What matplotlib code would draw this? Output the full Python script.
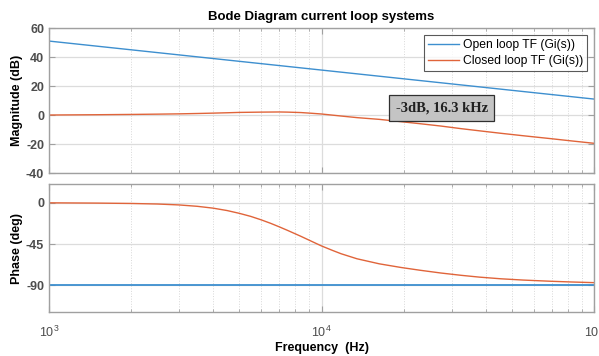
import numpy as np
import matplotlib
matplotlib.use('Agg')
import matplotlib.pyplot as plt
from matplotlib.ticker import LogLocator, NullFormatter

plt.rcParams['font.family'] = ['Liberation Sans', 'DejaVu Sans']
plt.rcParams['mathtext.fontset'] = 'custom'
plt.rcParams['mathtext.rm'] = 'Liberation Sans'
plt.rcParams['axes.unicode_minus'] = False

# ── data ──
f_open = [1e3, 1e4, 1e5]
mag_open = [51.0, 31.0, 11.0]
phase_open = [-90.0, -90.0, -90.0]

f_closed = [1000, 1500, 2000, 2500, 3000, 3500, 4000, 4500, 5000, 5500, 6000,
            6500, 7000, 7500, 8400, 9200, 10000, 11000, 11800, 13500, 16300,
            19600, 23000, 27400, 32500, 38000, 45500, 55000, 69400, 83000, 100000]
mag_closed = [0.0, 0.2, 0.4, 0.6, 0.8, 1.05, 1.3, 1.55, 1.8, 1.9, 2.0,
              2.05, 2.1, 2.0, 1.7, 1.2, 0.7, -0.1, -0.7, -1.8, -3.0,
              -4.6, -6.0, -7.6, -9.4, -10.9, -12.6, -14.3, -16.3, -17.9, -19.5]
phase_closed = [0.0, -0.3, -0.7, -1.3, -2.3, -3.8, -5.8, -8.4, -11.5, -14.8, -18.5,
                -22.3, -26.2, -30.0, -36.5, -42.0, -47.0, -52.0, -55.5, -61.0, -66.5,
                -70.5, -73.5, -76.5, -79.0, -81.0, -82.8, -84.2, -85.5, -86.3, -87.0]

mag_ticks = [-40, -20, 0, 20, 40, 60]
phase_ticks = [-90, -45, 0]
labels = ['Open loop TF (Gi(s))', 'Closed loop TF (Gi(s))']
note = '-3dB, 16.3 kHz'

blue = '#3d8fcf'
orange = '#e0643a'
tick_col = '#4d4d4d'
spine_col = '#a0a0a0'

fig = plt.figure(figsize=(5.99, 3.56), dpi=100)
fig.patch.set_facecolor('white')
ax1 = fig.add_axes([0.0818, 0.514, 0.9099, 0.4073])
ax2 = fig.add_axes([0.0818, 0.1236, 0.9099, 0.3595])


def style(ax):
    ax.set_xscale('log')
    ax.set_xlim(1e3, 1e5)
    ax.xaxis.set_minor_locator(LogLocator(base=10, subs=np.arange(2, 10)))
    ax.xaxis.set_minor_formatter(NullFormatter())
    ax.grid(True, which='major', color='#dcdcdc', lw=0.9, ls='-')
    ax.grid(True, which='minor', axis='x', color='#d8d8d8', lw=0.7, ls=':')
    ax.set_axisbelow(True)
    for s in ax.spines.values():
        s.set_color(spine_col)
        s.set_linewidth(1.0)
    ax.tick_params(which='both', direction='in', top=True, right=True,
                   color=spine_col, labelcolor=tick_col, labelsize=9)
    ax.tick_params(which='major', length=4)
    ax.tick_params(which='minor', length=2)
    for lab in ax.get_yticklabels():
        lab.set_fontweight('bold')


# ── magnitude ──
ax1.plot(f_open, mag_open, color=blue, lw=1.0, label=labels[0])
ax1.plot(f_closed, mag_closed, color=orange, lw=1.0, label=labels[1])
ax1.set_ylim(-40, 60)
ax1.set_yticks(mag_ticks)
style(ax1)
ax1.tick_params(labelbottom=False)
ax1.set_ylabel('Magnitude (dB)', fontsize=9, fontweight='bold', labelpad=2)
ax1.set_title('Bode Diagram current loop systems', fontsize=9.5,
              fontweight='bold', pad=6)
leg = ax1.legend(loc='upper right', fontsize=8.7, frameon=True, fancybox=False,
                 edgecolor='#303030', handlelength=2.5, handletextpad=0.35,
                 labelspacing=0.35, borderpad=0.35, borderaxespad=0.55)
leg.get_frame().set_linewidth(0.8)
ax1.text(27600, 4.8, note, fontsize=10.5,
         fontweight='bold', family=['Liberation Serif', 'DejaVu Serif'],
         ha='center', va='center', color='#202020',
         bbox=dict(boxstyle='square,pad=0.45', fc='#c4c4c4', ec='#303030', lw=0.9))

# ── phase ──
ax2.plot(f_open, phase_open, color=blue, lw=1.3)
ax2.plot(f_closed, phase_closed, color=orange, lw=1.0)
ax2.set_ylim(-119, 20.5)
ax2.set_yticks(phase_ticks)
style(ax2)
ax2.set_xticks([1e3, 1e4, 1e5])
ax2.set_xticklabels(['$10^3$', '$10^4$', '$10^5$'])
ax2.tick_params(axis='x', pad=9)
ax2.set_ylabel('Phase (deg)', fontsize=9, fontweight='bold', labelpad=2)
ax2.set_xlabel('Frequency  (Hz)', fontsize=9, fontweight='bold', labelpad=2)

fig.savefig('out.png', dpi=100, facecolor='white')
